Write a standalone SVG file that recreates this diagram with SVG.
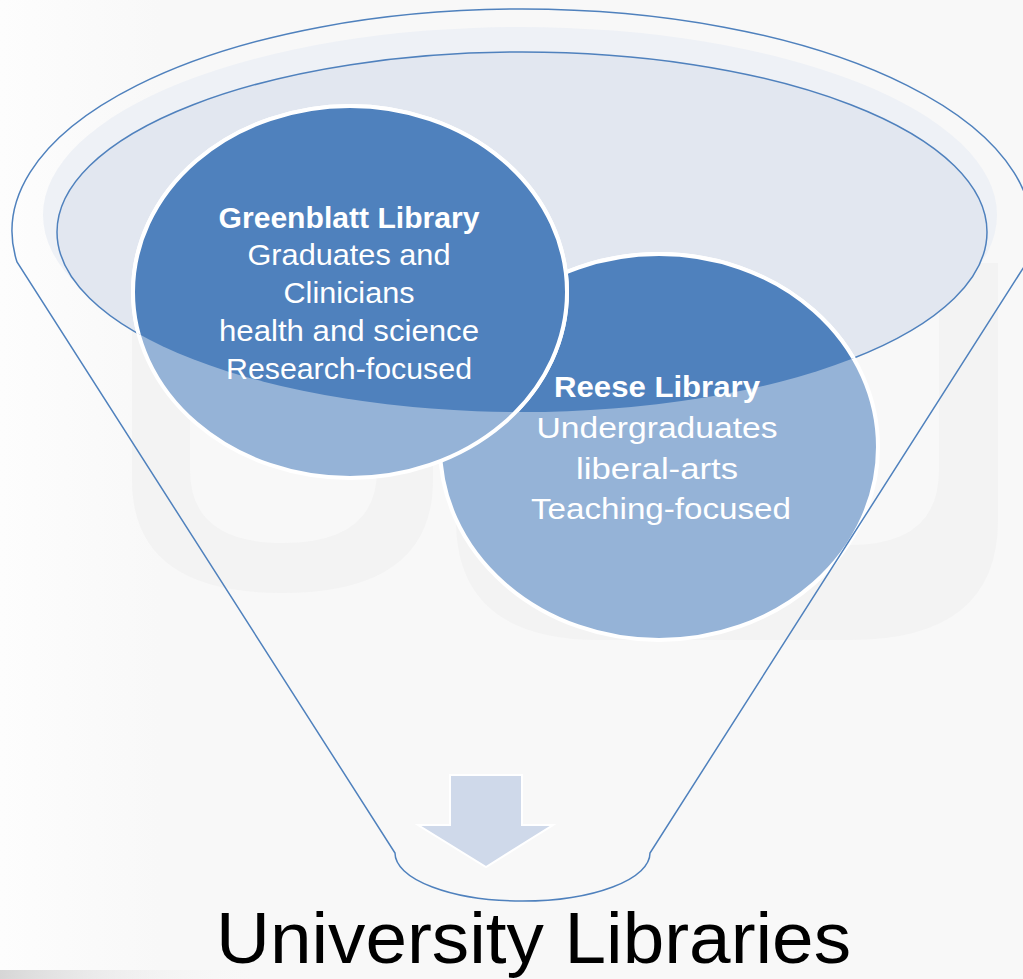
<svg xmlns="http://www.w3.org/2000/svg" width="1023" height="979" viewBox="0 0 1023 979">
<defs>
<style>
.lbl{font-family:"Liberation Sans",Arial,sans-serif;fill:#ffffff;font-size:29px;text-anchor:middle;}
.b{font-weight:bold;}
.title{font-family:"Liberation Sans",Arial,sans-serif;fill:#000000;font-size:72px;text-anchor:middle;}
.wm{fill:#f3f3f3;}
.circ{stroke:#ffffff;stroke-width:4;}
.light{fill:#95b3d7;}
.dark{fill:#4f81bd;}
.outline{fill:none;stroke:#4f81bd;stroke-width:1.5;}
</style>
<clipPath id="innerClip"><ellipse cx="522" cy="232" rx="465" ry="180"/></clipPath>
<linearGradient id="shadowGrad" x1="0" y1="0" x2="1" y2="0">
<stop offset="0" stop-color="#d6d6d6"/><stop offset="1" stop-color="#f8f8f8" stop-opacity="0"/>
</linearGradient>
<linearGradient id="leftGrad" x1="0" y1="0" x2="1" y2="0">
<stop offset="0" stop-color="#fdfdfd"/><stop offset="1" stop-color="#f8f8f8"/>
</linearGradient>
</defs>
<rect x="0" y="0" width="1023" height="979" fill="#f8f8f8"/>
<rect x="0" y="0" width="160" height="979" fill="url(#leftGrad)"/>
<rect x="0" y="970" width="260" height="9" fill="url(#shadowGrad)"/>

<g id="watermark">
<path class="wm" d="M132,330 V480 Q132,593 282,593 Q433,593 433,480 V330 H377 V470 Q377,543 283,543 Q190,543 190,470 V330 Z"/>
<path class="wm" d="M456,330 V520 Q456,640 600,640 L850,640 Q998,640 998,520 V263 H939 V470 Q939,545 850,545 L600,545 Q502,545 502,480 V330 Z"/>
</g>

<g id="funnel-top">
<ellipse cx="520" cy="215" rx="477" ry="188" fill="#eef1f6"/>
<ellipse cx="522" cy="232" rx="465" ry="180" fill="#e2e7f0" stroke="#4f81bd" stroke-width="1.5"/>
</g>

<g id="reese">
<ellipse class="circ light" cx="659" cy="447" rx="219" ry="193"/>
<ellipse class="circ dark" cx="659" cy="447" rx="219" ry="193" clip-path="url(#innerClip)"/>
</g>

<g id="greenblatt">
<ellipse class="circ light" cx="350" cy="292" rx="217" ry="186"/>
<ellipse class="circ dark" cx="350" cy="292" rx="217" ry="186" clip-path="url(#innerClip)"/>
<text class="lbl b" x="349" y="228" textLength="261" lengthAdjust="spacingAndGlyphs">Greenblatt Library</text>
<text class="lbl" x="349" y="265" textLength="203" lengthAdjust="spacingAndGlyphs">Graduates and</text>
<text class="lbl" x="349" y="303" textLength="131" lengthAdjust="spacingAndGlyphs">Clinicians</text>
<text class="lbl" x="349" y="341" textLength="260" lengthAdjust="spacingAndGlyphs">health and science</text>
<text class="lbl" x="349" y="379" textLength="246" lengthAdjust="spacingAndGlyphs">Research-focused</text>
</g>

<g id="reese-text">
<text class="lbl b" x="657" y="397" textLength="206" lengthAdjust="spacingAndGlyphs">Reese Library</text>
<text class="lbl" x="657" y="438" textLength="241" lengthAdjust="spacingAndGlyphs">Undergraduates</text>
<text class="lbl" x="657" y="479" textLength="162" lengthAdjust="spacingAndGlyphs">liberal-arts</text>
<text class="lbl" x="661" y="519" textLength="260" lengthAdjust="spacingAndGlyphs">Teaching-focused</text>
</g>

<g id="connectors">
<path class="outline" d="M17,262 A510 222 0 1 1 1027,262 L650,853 A127.5 48 0 0 1 395,853 Z"/>
</g>

<g id="arrow">
<path d="M450,775 H522 V825 H553 L486,867 L418,825 H450 Z" fill="#cfd9ea" stroke="#ffffff" stroke-width="2"/>
</g>

<g id="title">
<text class="title" x="533.5" y="963" textLength="635" lengthAdjust="spacingAndGlyphs">University Libraries</text>
</g>
</svg>
